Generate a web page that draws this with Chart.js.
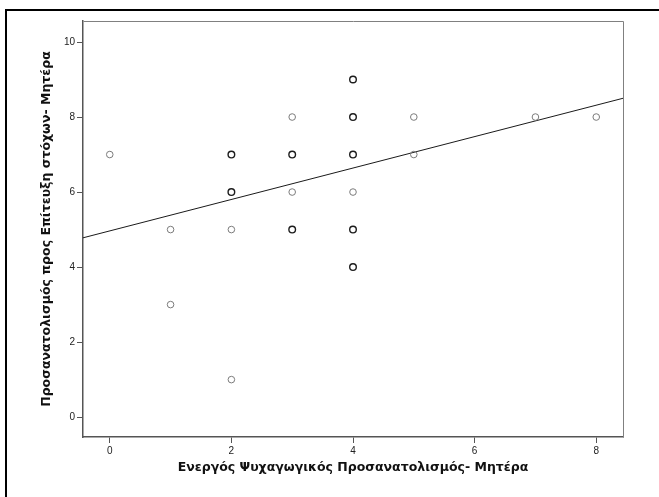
<!DOCTYPE html>
<html>
<head>
<meta charset="utf-8">
<script src="https://cdn.jsdelivr.net/npm/chart.js@4"></script>
<style>
  html, body { margin: 0; padding: 0; background: #fff; }
  canvas { display: block; }
</style>
</head>
<body>
<canvas id="c" width="659" height="497"></canvas>
<script>
// Ενεργός Ψυχαγωγικός Προσανατολισμός (x) vs Προσανατολισμός προς Επίτευξη στόχων (y), Μητέρα
const activeLeisure = [0, 1, 1, 2, 2, 2, 2, 3, 3, 3, 3, 4, 4, 4, 4, 4, 4, 5, 5, 7, 8];
const goalAchievement = [7, 5, 3, 7, 6, 5, 1, 8, 7, 6, 5, 9, 8, 7, 6, 5, 4, 8, 7, 8, 8];
// number of cases sharing each point (overlapping markers look darker)
const caseCount = [1, 1, 1, 2, 2, 1, 1, 1, 2, 1, 2, 2, 2, 2, 1, 2, 2, 1, 1, 1, 1];

// fit line end points
const fitX = [-0.44, 8.44];
const fitY = [4.78, 8.50];

const xTicks = [0, 2, 4, 6, 8];
const yTicks = [0, 2, 4, 6, 8, 10];

const xTitle = 'Ενεργός Ψυχαγωγικός Προσανατολισμός- Μητέρα';
const yTitle = 'Προσανατολισμός προς Επίτευξη στόχων- Μητέρα';

const points = activeLeisure.map((x, i) => ({ x: x, y: goalAchievement[i] }));
const pointColors = caseCount.map(n => n > 1 ? '#1c1c1c' : '#7c7c7c');
const pointWidths = caseCount.map(n => n > 1 ? 1.4 : 1);

const fitPoints = fitX.map((x, i) => ({ x: x, y: fitY[i] }));

const FONT = "'Liberation Sans', Arial, sans-serif";
const TITLE_FONT = "'DejaVu Sans', Verdana, sans-serif";

const framePlugin = {
  id: 'frame',
  beforeDraw(chart) {
    const ctx = chart.ctx;
    ctx.save();
    ctx.fillStyle = '#fff';
    ctx.fillRect(0, 0, chart.width, chart.height);
    ctx.restore();
  },
  afterDraw(chart) {
    const ctx = chart.ctx;
    const a = chart.chartArea;
    ctx.save();
    // plot box (top and right edges)
    ctx.strokeStyle = '#808080';
    ctx.lineWidth = 1;
    ctx.beginPath();
    ctx.moveTo(Math.round(a.left) + 0.5, Math.round(a.top) + 0.5);
    ctx.lineTo(Math.round(a.right) + 0.5, Math.round(a.top) + 0.5);
    ctx.lineTo(Math.round(a.right) + 0.5, Math.round(a.bottom) + 0.5);
    ctx.stroke();
    // outer frame
    ctx.strokeStyle = '#000';
    ctx.lineWidth = 2;
    ctx.beginPath();
    ctx.moveTo(6, chart.height);
    ctx.lineTo(6, 10);
    ctx.lineTo(chart.width, 10);
    ctx.stroke();
    ctx.restore();
  }
};

new Chart(document.getElementById('c'), {
  type: 'scatter',
  data: {
    datasets: [
      {
        label: 'Fit',
        type: 'line',
        data: fitPoints,
        borderColor: '#1a1a1a',
        borderWidth: 1,
        pointRadius: 0,
        fill: false,
        tension: 0,
        order: 2
      },
      {
        label: 'Cases',
        data: points,
        pointStyle: 'circle',
        pointRadius: 3.3,
        pointBorderColor: pointColors,
        pointBorderWidth: pointWidths,
        pointBackgroundColor: 'rgba(255,255,255,0)',
        order: 1
      }
    ]
  },
  options: {
    responsive: false,
    devicePixelRatio: 1,
    animation: false,
    events: [],
    layout: { padding: { top: 21, right: 36, left: 0, bottom: 0 } },
    plugins: {
      legend: { display: false },
      tooltip: { enabled: false }
    },
    scales: {
      x: {
        type: 'linear',
        min: -0.44,
        max: 8.44,
        afterFit(scale) { scale.height = 60; },
        afterBuildTicks(scale) { scale.ticks = xTicks.map(v => ({ value: v })); },
        grid: { display: true, drawOnChartArea: false, drawTicks: true, tickLength: 6, color: '#555', lineWidth: 1 },
        border: { display: true, color: '#555', width: 1.5 },
        ticks: { color: '#222', padding: 2, font: { family: FONT, size: 10 }, maxRotation: 0 },
        title: {
          display: true,
          text: xTitle,
          color: '#111',
          font: { family: TITLE_FONT, size: 12.5, weight: 'bold' },
          padding: { top: 0, bottom: 22 }
        }
      },
      y: {
        type: 'linear',
        min: -0.53,
        max: 10.56,
        afterFit(scale) { scale.width = 83; },
        afterBuildTicks(scale) { scale.ticks = yTicks.map(v => ({ value: v })); },
        grid: { display: true, drawOnChartArea: false, drawTicks: true, tickLength: 6, color: '#555', lineWidth: 1 },
        border: { display: true, color: '#555', width: 1.5 },
        ticks: { color: '#222', padding: 2, font: { family: FONT, size: 10 } },
        title: {
          display: true,
          text: yTitle,
          color: '#111',
          font: { family: TITLE_FONT, size: 12.5, weight: 'bold' },
          padding: { top: 39, bottom: 0 }
        }
      }
    }
  },
  plugins: [framePlugin]
});
</script>
</body>
</html>
